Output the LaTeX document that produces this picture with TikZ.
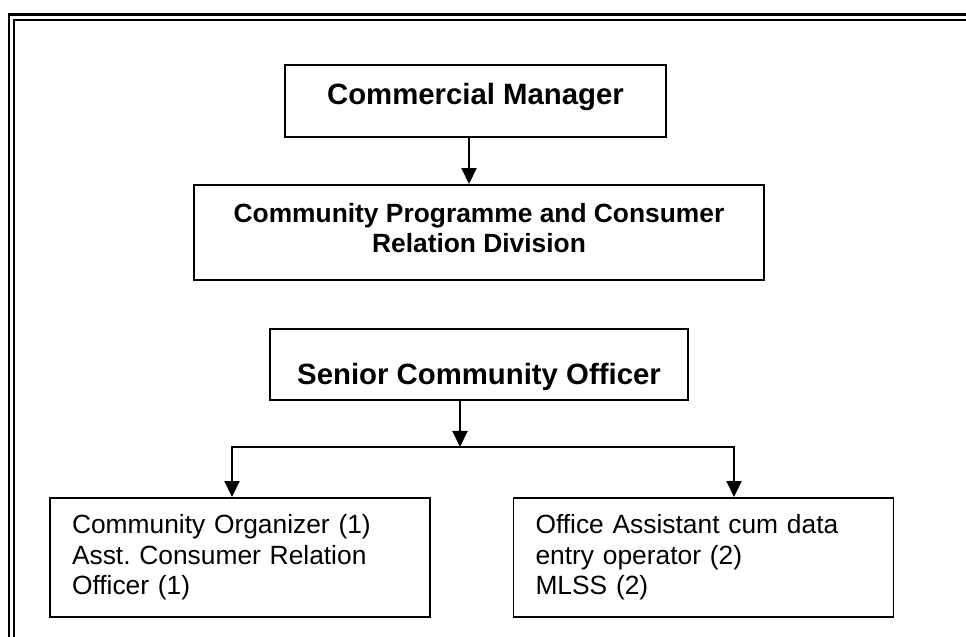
\documentclass[tikz,border=0pt]{standalone}
\usepackage{fontspec}
\setmainfont{Liberation Sans}
\usetikzlibrary{arrows.meta}
\frenchspacing
\begin{document}
\begin{tikzpicture}[
  box/.style={draw,line width=1.1pt,inner sep=0.1cm},
  head/.style={box,font=\bfseries\fontsize{16.7}{20}\selectfont},
  unit/.style={box,align=center,font=\bfseries\fontsize{15}{17}\selectfont},
  staff/.style={box,align=left,inner xsep=0.44cm,text width=6.72cm,minimum height=2.38cm,font=\fontsize{15}{17.3}\selectfont},
  arr/.style={line width=1.1pt,-{Triangle[length=0.32cm,width=0.3cm]}},
  frame/.style={line width=1.2pt}]
\useasboundingbox (0,0) rectangle (19.32,12.74);
\draw[frame] (0.184,0)--(0.184,12.45)--(19.32,12.45);
\draw[frame] (0.284,0)--(0.284,12.34)--(19.32,12.34);
\node[head,minimum width=7.62cm,minimum height=1.44cm,text height=0.45cm,text depth=0.32cm] (cm) at (9.51,10.72) {Commercial Manager};
\node[unit,minimum width=11.4cm,minimum height=1.9cm,text height=0.99cm,text depth=0.19cm] (cprd) at (9.58,8.09) {Community Programme and Consumer\\Relation Division};
\node[head,minimum width=8.36cm,minimum height=1.42cm,text height=0.9cm,text depth=0.1cm] (sco) at (9.58,5.45) {Senior Community Officer};
\node[staff] (co) at (4.80,1.59) {Community Organizer (1)\\Asst. Consumer Relation\\Officer (1)};
\node[staff] (oa) at (14.07,1.59) {Office Assistant cum data\\entry operator (2)\\MLSS (2)};
\coordinate (fork) at (9.20,3.80);
\draw[arr] ([xshift=-0.13cm]cm.south)--([xshift=-0.13cm]cm.south |- cprd.north);
\draw[arr] ([xshift=-0.38cm]sco.south)--(fork);
\draw[arr] (fork)-|([xshift=-0.16cm]co.north);
\draw[arr] (fork)-|([xshift=0.61cm]oa.north);
\end{tikzpicture}
\end{document}
